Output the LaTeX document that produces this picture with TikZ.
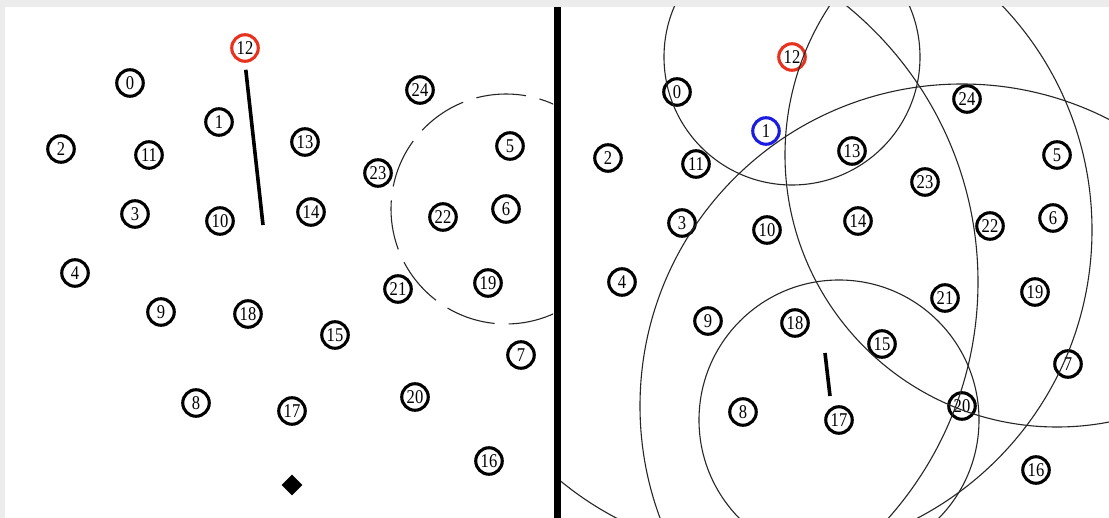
\documentclass[tikz,border=0pt]{standalone}
\usepackage{fontspec}
\setmainfont{Liberation Serif}
\newfontfamily\motefont[FakeStretch=0.85]{Liberation Serif}
\usetikzlibrary{shapes.geometric}

\definecolor{framegray}{HTML}{ECECEC}
\definecolor{headred}{HTML}{E8321E}
\definecolor{probeblue}{HTML}{1C1CE0}

\tikzset{
    mote/.style={circle, draw=black, line width=3.1pt, minimum size=26.5pt, inner sep=0pt, font=\motefont\fontsize{19.5}{19.5}\selectfont},
    head/.style={mote, draw=headred},
    probe/.style={mote, draw=probeblue},
    track/.style={line width=3.6pt},
    reach/.style={line width=1.1pt, black!85},
    sink/.style={diamond, fill=black, minimum size=21pt, inner sep=0pt},
}

% the 25 motes, #1 = name prefix, #2 = style of mote 1
\newcommand{\motefield}[2]{
    \node[mote] (#1-0) at (130,83) {0};
    \node[#2] (#1-1) at (219,122) {1};
    \node[mote] (#1-2) at (61,149) {2};
    \node[mote] (#1-3) at (135,214) {3};
    \node[mote] (#1-4) at (75,273) {4};
    \node[mote] (#1-5) at (510,146) {5};
    \node[mote] (#1-6) at (506,209) {6};
    \node[mote] (#1-7) at (521,355) {7};
    \node[mote] (#1-8) at (196,403) {8};
    \node[mote] (#1-9) at (161,312) {9};
    \node[mote] (#1-10) at (220,221) {10};
    \node[mote] (#1-11) at (149,155) {11};
    \node[head] (#1-12) at (245,48) {12};
    \node[mote] (#1-13) at (305,142) {13};
    \node[mote] (#1-14) at (311,212) {14};
    \node[mote] (#1-15) at (335,335) {15};
    \node[mote] (#1-16) at (489,461) {16};
    \node[mote] (#1-17) at (292,411) {17};
    \node[mote] (#1-18) at (248,314) {18};
    \node[mote] (#1-19) at (488,283) {19};
    \node[mote] (#1-20) at (415,397) {20};
    \node[mote] (#1-21) at (398,289) {21};
    \node[mote] (#1-22) at (443,217) {22};
    \node[mote] (#1-23) at (378,173) {23};
    \node[mote] (#1-24) at (420,90) {24};
}

\begin{document}
\begin{tikzpicture}[x=1pt, y=-1pt]
    \useasboundingbox (0,0) rectangle (1109,518);
    \fill[framegray] (0,0) rectangle (1109,518);
    \fill[white] (5,7) rectangle (554,518);
    \fill[white] (561,7) rectangle (1109,518);
    \fill[black] (554,7) rectangle (561,518);

    % left panel
    \begin{scope}
        \motefield{L}{mote}
        \coordinate (L-stop) at (263,225);
        \draw[track, shorten <=7pt] (L-12.south) -- (L-stop);
        \node[sink] (L-sink) at (292,485) {};
        \begin{scope}
            \clip (5,7) rectangle (553,518);
            \draw[reach, dash pattern=on 50pt off 14pt] (L-6) circle[radius=115];
        \end{scope}
    \end{scope}

    % right panel
    \begin{scope}[shift={(547,9)}]
        \motefield{R}{probe}
        \coordinate (R-from) at (278,344);
        \coordinate (R-to) at (283,387);
        \draw[track] (R-from) -- (R-to);
    \end{scope}
    \begin{scope}
        \clip (561,7) rectangle (1109,518);
        \draw[reach] (R-12) circle[radius=128];
        \draw[reach] (R-20) circle[radius=322];
        \draw[reach] (R-5) circle[radius=272];
        \draw[reach] (R-17) circle[radius=140];
        \draw[reach] (R-10) circle[radius=325];
        \draw[reach] (R-4) circle[radius=356];
    \end{scope}
\end{tikzpicture}
\end{document}
